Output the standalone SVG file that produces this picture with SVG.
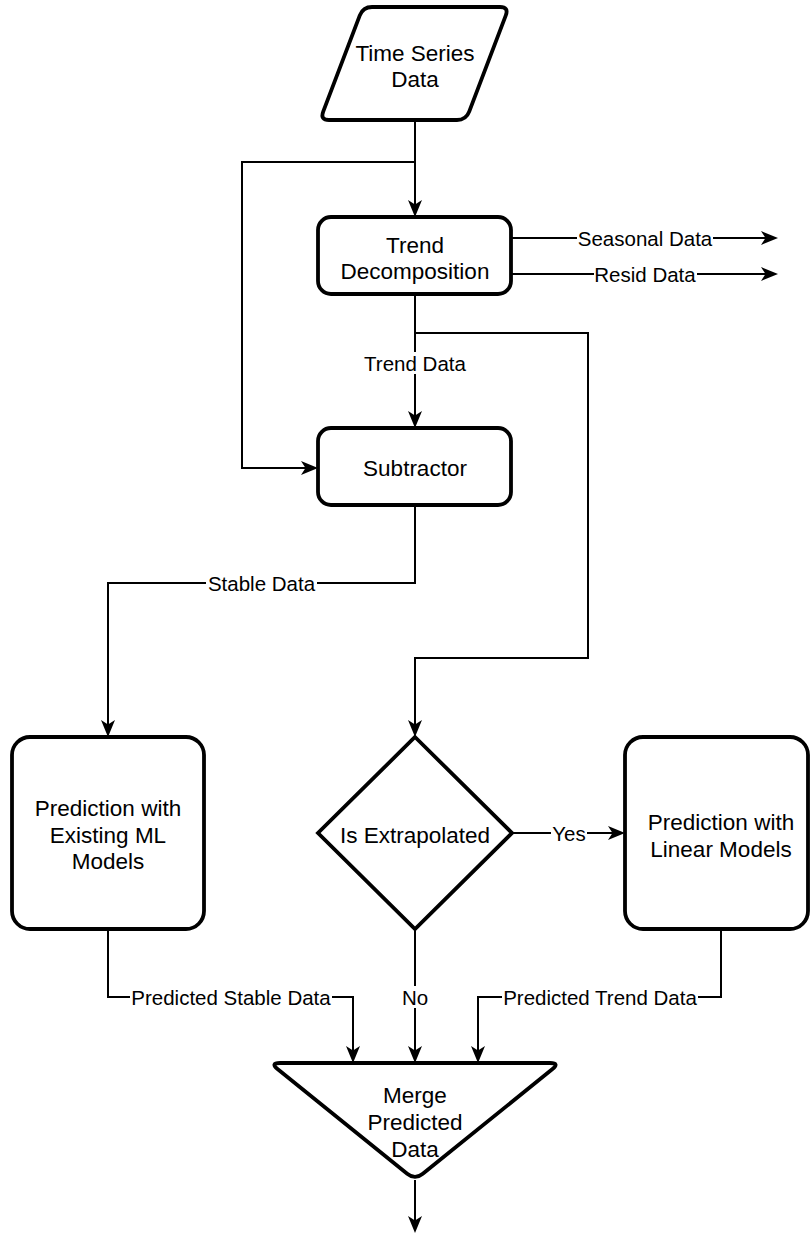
<svg xmlns="http://www.w3.org/2000/svg" width="810" height="1236" viewBox="0 0 810 1236">
<defs>
<marker id="arr" viewBox="-18 -8 19 16" refX="-4" refY="0" markerWidth="19" markerHeight="16" markerUnits="userSpaceOnUse" orient="auto" overflow="visible">
<path d="M0,0 L-17,-7 L-12.5,0 L-17,7 Z" fill="#000"/>
</marker>
</defs>
<style>
.node{fill:#fff;stroke:#000;stroke-width:3.8}
.nt{font-family:"Liberation Sans",Arial,sans-serif;font-size:22.5px;fill:#000;text-anchor:middle}
.ln{fill:none;stroke:#000;stroke-width:2}
.lb{font-family:"Liberation Sans",Arial,sans-serif;font-size:20.5px;fill:#000;text-anchor:middle}
.bg{fill:#fff;stroke:none}
</style>
<rect x="0" y="0" width="810" height="1236" fill="#fff"/>
<g id="connectors">
<path class="ln" d="M415,120 V213" marker-end="url(#arr)"/>
<path class="ln" d="M415,162 H242 V468 H314" marker-end="url(#arr)"/>
<path class="ln" d="M511,238 H774" marker-end="url(#arr)"/>
<rect class="bg" x="577" y="227" width="136" height="22"/>
<text class="lb" x="645" y="245.5">Seasonal Data</text>
<path class="ln" d="M511,274 H774" marker-end="url(#arr)"/>
<rect class="bg" x="594" y="263" width="103" height="22"/>
<text class="lb" x="645" y="281.5">Resid Data</text>
<path class="ln" d="M415,294 V424" marker-end="url(#arr)"/>
<rect class="bg" x="362" y="352" width="106" height="22"/>
<text class="lb" x="415" y="370.5">Trend Data</text>
<path class="ln" d="M415,333 H588 V658 H415 V733" marker-end="url(#arr)"/>
<path class="ln" d="M415,505 V583 H108 V733" marker-end="url(#arr)"/>
<rect class="bg" x="206" y="572" width="111" height="22"/>
<text class="lb" x="261.5" y="590.5">Stable Data</text>
<path class="ln" d="M512,833 H621" marker-end="url(#arr)"/>
<rect class="bg" x="551" y="822" width="36" height="22"/>
<text class="lb" x="569" y="840.5">Yes</text>
<path class="ln" d="M108,929 V997 H353 V1059" marker-end="url(#arr)"/>
<rect class="bg" x="130" y="986" width="202" height="22"/>
<text class="lb" x="231" y="1004.5">Predicted Stable Data</text>
<path class="ln" d="M415,929 V1059" marker-end="url(#arr)"/>
<rect class="bg" x="401" y="986" width="28" height="22"/>
<text class="lb" x="415" y="1004.5">No</text>
<path class="ln" d="M721,929 V997 H478 V1059" marker-end="url(#arr)"/>
<rect class="bg" x="502" y="986" width="196" height="22"/>
<text class="lb" x="600" y="1004.5">Predicted Trend Data</text>
<path class="ln" d="M415,1180 V1229" marker-end="url(#arr)"/>
</g>
<g id="time-series-data">
<path class="node" d="M372,7 L500,7 Q509,7 505.8,15.4 L469.2,111.6 Q466,120 457,120 L329,120 Q320,120 323.2,111.6 L359.8,15.4 Q363,7 372,7 Z"/>
<text class="nt" x="415" y="61">Time Series</text>
<text class="nt" x="415" y="87">Data</text>
</g>
<g id="trend-decomposition">
<rect class="node" x="318" y="217" width="193" height="77" rx="13" ry="13"/>
<text class="nt" x="415" y="253">Trend</text>
<text class="nt" x="415" y="279">Decomposition</text>
</g>
<g id="subtractor">
<rect class="node" x="318" y="428" width="193" height="77" rx="13" ry="13"/>
<text class="nt" x="415" y="476">Subtractor</text>
</g>
<g id="prediction-ml">
<rect class="node" x="12" y="737" width="192" height="192" rx="18" ry="18"/>
<text class="nt" x="108" y="816">Prediction with</text>
<text class="nt" x="108" y="843">Existing ML</text>
<text class="nt" x="108" y="869">Models</text>
</g>
<g id="is-extrapolated">
<path class="node" d="M415,737 L512,833 L415,929 L318,833 Z"/>
<text class="nt" x="415" y="843">Is Extrapolated</text>
</g>
<g id="prediction-linear">
<rect class="node" x="625" y="737" width="183" height="192" rx="18" ry="18"/>
<text class="nt" x="721" y="830">Prediction with</text>
<text class="nt" x="721" y="857">Linear Models</text>
</g>
<g id="merge-predicted-data">
<path class="node" d="M280,1063 L550,1063 Q560,1063 552.2,1069.3 L422.8,1173.7 Q415,1180 407.2,1173.7 L277.8,1069.3 Q270,1063 280,1063 Z"/>
<text class="nt" x="415" y="1103">Merge</text>
<text class="nt" x="415" y="1130">Predicted</text>
<text class="nt" x="415" y="1157">Data</text>
</g>
</svg>
